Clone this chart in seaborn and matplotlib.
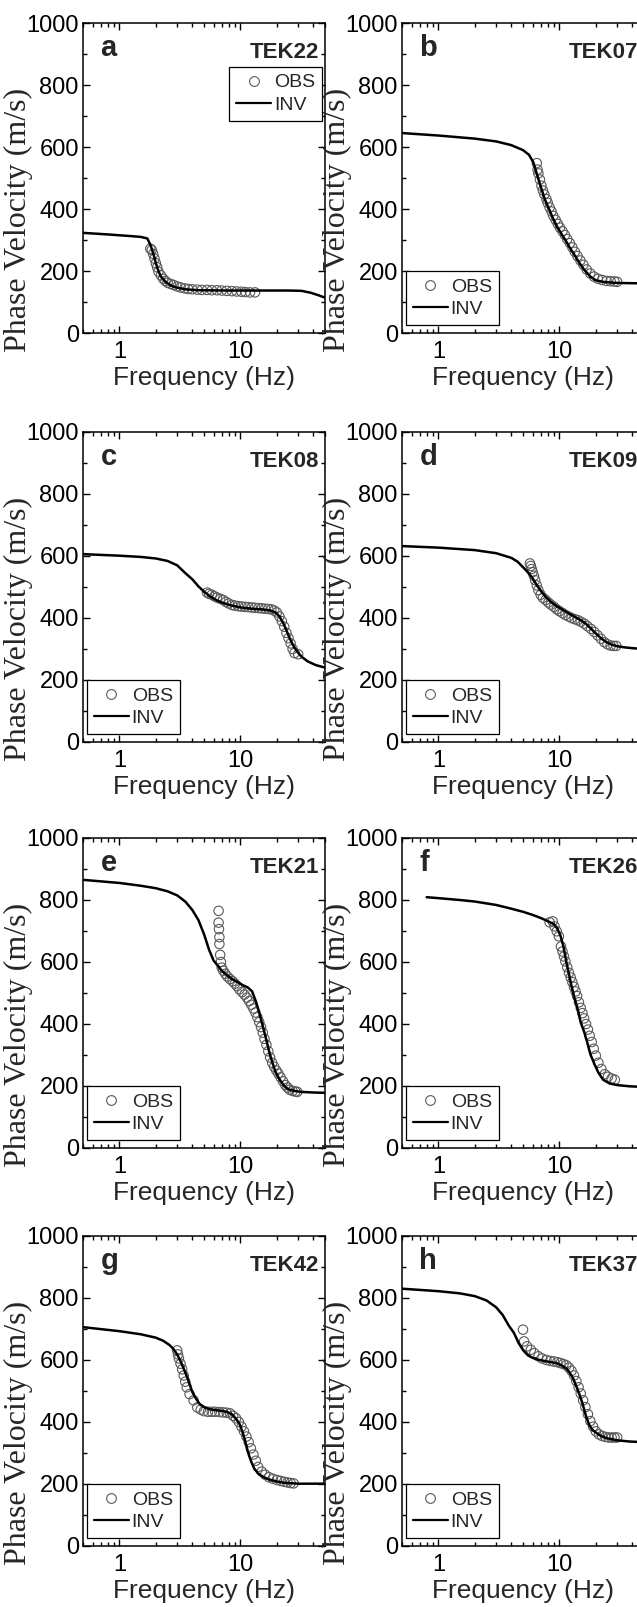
import matplotlib
matplotlib.use("Agg")
import matplotlib.pyplot as plt
import matplotlib.ticker as mticker
from matplotlib.lines import Line2D
import seaborn as sns

# --- data (frequency in Hz, phase velocity in m/s) ---
# a  TEK22
f_obs_a = [1.8, 1.85, 1.9, 1.95, 2.0, 2.05, 2.1, 2.2, 2.3, 2.4, 2.5, 2.65, 2.8, 3.0, 3.2, 3.45, 3.7, 4.0,
           4.4, 4.8, 5.3, 5.8, 6.4, 7.0, 7.7, 8.5, 9.3, 10.2, 11.0, 12.0, 13.2]
v_obs_a = [272, 268, 255, 240, 225, 212, 198, 186, 175, 168, 162, 158, 155, 150, 147, 144, 142, 141,
           140, 139, 139, 138, 138, 137, 136, 135, 134, 133, 132, 131, 131]
f_inv_a = [0.5, 0.8, 1.2, 1.5, 1.7, 1.8, 1.9, 2.0, 2.1, 2.2, 2.4, 2.7, 3.0, 3.5, 4.5, 8, 15, 25, 32, 38, 44, 50]
v_inv_a = [323, 318, 313, 310, 305, 285, 258, 225, 200, 182, 165, 152, 146, 141, 138, 137, 137, 137, 136, 130, 122, 114]

# b  TEK07
f_obs_b = [6.5, 6.6, 6.7, 6.9, 7.1, 7.3, 7.5, 7.8, 8.0, 8.3, 8.6, 8.9, 9.3, 9.7, 10.1, 10.6, 11.1, 11.6,
           12.2, 12.8, 13.4, 14.1, 14.9, 15.8, 16.8, 18.0, 19.3, 20.8, 22.5, 24.5, 26.5, 28.5, 30.0]
v_obs_b = [548, 527, 515, 495, 475, 460, 447, 432, 420, 405, 392, 378, 365, 352, 340, 328, 316, 303,
           290, 276, 262, 248, 234, 220, 205, 192, 182, 175, 171, 168, 167, 166, 165]
f_inv_b = [0.5, 1.0, 2.0, 3.0, 4.0, 5.0, 5.6, 6.1, 6.6, 7.1, 7.6, 8.2, 8.8, 9.5, 10.3, 11.2, 12.2, 13.3,
           14.5, 16.0, 18.0, 20.0, 23.0, 28.0, 35.0, 50.0]
v_inv_b = [645, 637, 627, 618, 606, 590, 575, 550, 505, 465, 430, 400, 372, 345, 322, 300, 275, 252,
           228, 204, 182, 170, 165, 162, 161, 160]

# c  TEK08
f_obs_c = [5.3, 5.5, 5.8, 6.1, 6.4, 6.8, 7.2, 7.6, 8.0, 8.5, 9.0, 9.6, 10.2, 10.9, 11.6, 12.4, 13.2,
           14.1, 15.0, 16.0, 17.0, 18.0, 19.0, 20.0, 21.0, 22.0, 23.0, 24.0, 25.0, 26.0, 27.0, 28.0, 30.0]
v_obs_c = [482, 478, 475, 470, 466, 462, 458, 452, 447, 442, 440, 438, 437, 436, 435, 434, 433,
           432, 431, 430, 429, 428, 424, 418, 405, 390, 372, 352, 335, 318, 300, 287, 283]
f_inv_c = [0.5, 1.0, 1.5, 2.0, 2.5, 3.0, 3.5, 4.0, 4.5, 5.0, 5.6, 6.3, 7.0, 8.0, 9.0, 10.5, 12.5, 15.0,
           17.5, 19.5, 21.0, 22.5, 24.0, 25.5, 27.0, 29.0, 32.0, 36.0, 42.0, 50.0]
v_inv_c = [606, 601, 597, 592, 584, 570, 545, 525, 502, 485, 470, 458, 450, 443, 438, 433, 430, 428,
           425, 418, 405, 385, 360, 335, 315, 295, 275, 260, 248, 240]

# d  TEK09
f_obs_d = [5.7, 5.8, 5.9, 6.0, 6.15, 6.3, 6.5, 6.7, 7.0, 7.3, 7.7, 8.1, 8.5, 9.0, 9.5, 10.0, 10.6, 11.2,
           11.9, 12.6, 13.4, 14.2, 15.0, 16.0, 17.0, 18.2, 19.4, 20.7, 22.0, 23.5, 25.0, 26.5, 28.0, 29.5]
v_obs_d = [576, 568, 558, 548, 536, 522, 505, 490, 475, 465, 458, 450, 443, 436, 428, 422, 416, 410,
           405, 400, 396, 393, 388, 382, 374, 365, 355, 344, 333, 322, 315, 311, 310, 310]
f_inv_d = [0.5, 1.0, 2.0, 3.0, 4.0, 4.5, 5.0, 5.5, 6.0, 6.5, 7.0, 7.7, 8.5, 9.5, 10.5, 12.0, 13.5, 15.0,
           16.5, 18.0, 20.0, 22.0, 24.5, 27.0, 30.0, 35.0, 42.0, 50.0]
v_inv_d = [632, 627, 619, 609, 594, 582, 564, 547, 528, 506, 488, 468, 452, 438, 428, 414, 403, 393,
           382, 368, 350, 335, 322, 314, 309, 305, 302, 300]

# e  TEK21
f_obs_e = [6.6, 6.6, 6.65, 6.7, 6.7, 6.8, 6.9, 7.0, 7.2, 7.5, 7.8, 8.2, 8.6, 9.0, 9.4, 9.8, 10.3, 10.8,
           11.3, 11.8, 12.3, 12.8, 13.3, 13.8, 14.3, 14.8, 15.3, 15.8, 16.4, 17.0, 17.6, 18.3, 19.0, 19.8,
           20.6, 21.5, 22.5, 23.5, 24.5, 25.5, 27.0, 28.5, 29.5]
v_obs_e = [765, 727, 706, 680, 658, 623, 600, 582, 572, 562, 553, 545, 538, 530, 522, 512, 503, 495,
           485, 474, 462, 450, 437, 422, 406, 390, 372, 352, 333, 312, 292, 275, 262, 250,
           240, 228, 215, 203, 195, 188, 184, 182, 181]
f_inv_e = [0.5, 1.0, 1.5, 2.0, 2.5, 3.0, 3.5, 4.0, 4.5, 5.0, 5.5, 6.0, 6.5, 7.0, 7.7, 8.5, 9.5, 10.5,
           11.5, 12.5, 13.5, 14.5, 15.5, 16.5, 17.5, 18.5, 19.5, 21.0, 23.0, 25.0, 28.0, 32.0, 40.0, 50.0]
v_inv_e = [865, 855, 846, 838, 828, 815, 795, 768, 735, 690, 640, 605, 588, 572, 558, 545, 535, 525,
           518, 505, 470, 428, 385, 343, 302, 272, 245, 222, 200, 189, 184, 181, 179, 178]

# f  TEK26
f_obs_f = [8.3, 8.8, 9.1, 9.5, 9.9, 10.3, 10.6, 10.9, 11.2, 11.6, 12.0, 12.4, 12.8, 13.2, 13.6, 14.0,
           14.5, 15.0, 15.5, 16.0, 16.6, 17.2, 17.8, 18.5, 19.2, 20.0, 21.0, 22.2, 23.7, 25.2, 27.0, 28.7]
v_obs_f = [728, 731, 715, 699, 683, 650, 634, 618, 602, 583, 565, 550, 535, 520, 505, 490,
           470, 452, 435, 418, 400, 382, 362, 342, 320, 298, 275, 255, 238, 230, 224, 220]
f_inv_f = [0.8, 1.0, 1.5, 2.0, 3.0, 4.0, 5.0, 6.0, 7.0, 8.0, 9.0, 9.6, 10.2, 10.8, 11.4, 12.0, 12.6,
           13.3, 14.0, 15.0, 16.0, 17.0, 18.0, 19.5, 21.0, 23.0, 26.0, 30.0, 38.0, 50.0]
v_inv_f = [809, 806, 800, 795, 784, 772, 762, 752, 742, 732, 722, 708, 685, 650, 600, 560, 522,
           485, 455, 405, 375, 340, 303, 270, 243, 220, 208, 203, 199, 197]

# g  TEK42
f_obs_g = [3.0, 3.05, 3.1, 3.2, 3.3, 3.4, 3.5, 3.6, 3.8, 4.1, 4.4, 4.7, 5.0, 5.4, 5.8, 6.2, 6.7, 7.2,
           7.7, 8.2, 8.7, 9.2, 9.7, 10.2, 10.7, 11.2, 11.7, 12.2, 12.8, 13.4, 14.0, 15.0, 16.0, 17.2,
           18.5, 20.0, 21.5, 23.0, 24.5, 26.0, 27.5]
v_obs_g = [631, 618, 605, 588, 570, 550, 530, 512, 490, 470, 447, 440, 435, 433, 433, 433, 432, 431,
           430, 428, 420, 412, 400, 385, 370, 353, 335, 315, 295, 275, 255, 240, 230, 222,
           217, 213, 210, 207, 205, 203, 202]
f_inv_g = [0.5, 1.0, 1.5, 2.0, 2.3, 2.6, 2.8, 3.0, 3.2, 3.4, 3.6, 3.8, 4.0, 4.3, 4.6, 5.0, 5.6, 6.3,
           7.0, 7.8, 8.5, 9.2, 9.8, 10.4, 11.0, 11.6, 12.2, 13.0, 14.0, 15.5, 17.5, 20.0, 23.0, 30.0,
           40.0, 50.0]
v_inv_g = [706, 693, 683, 672, 662, 648, 635, 618, 596, 572, 548, 522, 497, 475, 458, 448, 441, 438,
           436, 432, 425, 410, 395, 368, 335, 300, 275, 250, 234, 222, 214, 208, 204, 201,
           201, 201]

# h  TEK37
f_obs_h = [5.0, 5.1, 5.4, 5.8, 6.2, 6.7, 7.2, 7.8, 8.4, 9.0, 9.6, 10.2, 10.8, 11.4, 12.0, 12.6, 13.2,
           13.8, 14.4, 15.0, 15.7, 16.4, 17.2, 18.0, 19.0, 20.0, 21.2, 22.5, 24.0, 25.5, 27.0, 28.5, 30.0]
v_obs_h = [698, 660, 644, 633, 622, 612, 605, 600, 597, 595, 593, 590, 587, 583, 575, 565, 550,
           532, 512, 492, 470, 448, 425, 403, 385, 370, 360, 355, 352, 350, 350, 350, 350]
f_inv_h = [0.5, 1.0, 1.5, 2.0, 2.5, 3.0, 3.4, 3.8, 4.2, 4.6, 5.0, 5.5, 6.0, 6.7, 7.5, 8.5, 9.5, 10.5,
           11.5, 12.3, 13.0, 13.8, 14.6, 15.5, 16.5, 17.5, 18.5, 20.0, 22.0, 25.0, 30.0, 38.0, 50.0]
v_inv_h = [830, 822, 815, 806, 792, 770, 745, 712, 688, 655, 632, 615, 607, 601, 597, 593, 590, 582,
           572, 556, 540, 515, 490, 460, 422, 393, 377, 366, 355, 347, 341, 337, 335]

letters = ["a", "b", "c", "d", "e", "f", "g", "h"]
stations = ["TEK22", "TEK07", "TEK08", "TEK09", "TEK21", "TEK26", "TEK42", "TEK37"]
obs = [(f_obs_a, v_obs_a), (f_obs_b, v_obs_b), (f_obs_c, v_obs_c), (f_obs_d, v_obs_d),
       (f_obs_e, v_obs_e), (f_obs_f, v_obs_f), (f_obs_g, v_obs_g), (f_obs_h, v_obs_h)]
inv = [(f_inv_a, v_inv_a), (f_inv_b, v_inv_b), (f_inv_c, v_inv_c), (f_inv_d, v_inv_d),
       (f_inv_e, v_inv_e), (f_inv_f, v_inv_f), (f_inv_g, v_inv_g), (f_inv_h, v_inv_h)]

sns.set_style("ticks")
plt.rcParams["font.family"] = ["Liberation Sans", "DejaVu Sans"]

W, H = 637, 1607
fig = plt.figure(figsize=(W / 100, H / 100), dpi=100)

col_left = [83, 402]
row_top = [23, 432, 838, 1236]
ax_w, ax_h = 242, 310

obs_color = "0.35"

for i in range(8):
    r, c = divmod(i, 2)
    x0 = col_left[c]
    y0 = row_top[r]
    ax = fig.add_axes([x0 / W, 1 - (y0 + ax_h) / H, ax_w / W, ax_h / H])

    fo, vo = obs[i]
    fi, vi = inv[i]
    sns.scatterplot(x=fo, y=vo, ax=ax, marker="o", s=46, facecolor="none",
                    edgecolor=obs_color, linewidth=0.8, zorder=2)
    sns.lineplot(x=fi, y=vi, ax=ax, color="black", linewidth=1.8, estimator=None,
                 sort=False, zorder=3)

    ax.set_xscale("log")
    ax.set_xlim(0.5, 50)
    ax.set_ylim(0, 1000)
    ax.xaxis.set_major_locator(mticker.FixedLocator([1, 10]))
    ax.xaxis.set_major_formatter(mticker.FuncFormatter(lambda v, p: f"{v:g}"))
    ax.xaxis.set_minor_locator(mticker.LogLocator(base=10, subs=range(2, 10), numticks=20))
    ax.xaxis.set_minor_formatter(mticker.NullFormatter())
    ax.yaxis.set_major_locator(mticker.MultipleLocator(200))
    ax.yaxis.set_minor_locator(mticker.MultipleLocator(100))

    ax.tick_params(which="both", direction="in", top=True, right=True, width=1.0, colors="black")
    ax.tick_params(which="major", length=5)
    ax.tick_params(which="minor", length=3)
    ax.tick_params(axis="y", which="major", labelsize=17, pad=3)
    ax.tick_params(axis="x", which="major", labelsize=17, pad=6)
    for s in ax.spines.values():
        s.set_linewidth(1.1)
        s.set_color("black")

    ax.set_xlabel("Frequency (Hz)", fontsize=19)
    ax.xaxis.set_label_coords(0.5, -0.105)
    ax.set_ylabel("Phase Velocity (m/s)", fontsize=23, family=["Liberation Serif", "DejaVu Serif"])
    ax.yaxis.set_label_coords(-0.205, 0.365)

    ax.text(0.072, 0.895, letters[i], transform=ax.transAxes, fontsize=21, fontweight="bold",
            ha="left", va="baseline")
    ax.text(0.975, 0.887, stations[i], transform=ax.transAxes, fontsize=16, fontweight="bold",
            ha="right", va="baseline")

    handles = [Line2D([], [], marker="o", linestyle="none", markerfacecolor="none",
                      markeredgecolor=obs_color, markersize=7, markeredgewidth=0.8),
               Line2D([], [], color="black", linewidth=1.6)]
    if i == 0:
        loc, anchor = "upper right", (1 - 3 / ax_w, 1 - 44 / ax_h)
    else:
        loc, anchor = "lower left", (4 / ax_w, 8 / ax_h)
    leg = ax.legend(handles, ["OBS", "INV"], loc=loc, bbox_to_anchor=anchor, borderaxespad=0,
                    fontsize=14, frameon=True, fancybox=False, framealpha=1, edgecolor="black",
                    handlelength=1.8, handletextpad=0.15, borderpad=0.35, labelspacing=0.25)
    leg.get_frame().set_linewidth(0.9)

fig.savefig("out.png", dpi=100)
